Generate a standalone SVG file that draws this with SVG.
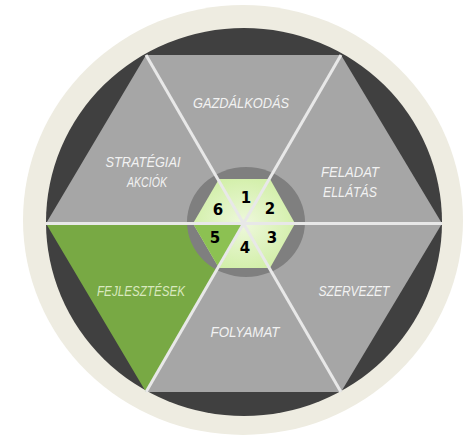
<svg xmlns="http://www.w3.org/2000/svg" width="467" height="437" viewBox="0 0 467 437">
<defs>
<style>
.seg{fill:#a6a6a6}
.lbl{font-family:"Liberation Sans",Arial,sans-serif;font-style:italic;font-size:14.5px;fill:#f2f2f2;text-anchor:middle}
.num{font-family:"DejaVu Sans",sans-serif;font-weight:bold;font-size:15px;fill:#000;text-anchor:middle}
.div{stroke:#e8e8e8;stroke-width:3;fill:none}
</style>
<radialGradient id="hexg" cx="0.5" cy="0.5" r="0.6">
<stop offset="0" stop-color="#eef8dc"/>
<stop offset="1" stop-color="#cfeea3"/>
</radialGradient>
</defs>
<rect width="467" height="437" fill="#ffffff"/>
<g id="frame">
<ellipse cx="243" cy="220" rx="220" ry="215" fill="#eeece1"/>
<ellipse cx="244" cy="222" rx="198" ry="194" fill="#404040"/>
</g>
<g id="gazdalkodas">
<polygon class="seg" points="146,55 341,55 244,223.5"/>
<text class="lbl" x="241" y="108" textLength="96" lengthAdjust="spacingAndGlyphs">GAZDÁLKODÁS</text>
</g>
<g id="feladat-ellatas">
<polygon class="seg" points="341,55 442,223.5 244,223.5"/>
<text class="lbl" x="350" y="177" textLength="58" lengthAdjust="spacingAndGlyphs">FELADAT</text>
<text class="lbl" x="350" y="197" textLength="54" lengthAdjust="spacingAndGlyphs">ELLÁTÁS</text>
</g>
<g id="szervezet">
<polygon class="seg" points="442,223.5 341,392 244,223.5"/>
<text class="lbl" x="354" y="296" textLength="71" lengthAdjust="spacingAndGlyphs">SZERVEZET</text>
</g>
<g id="folyamat">
<polygon class="seg" points="341,392 146,392 244,223.5"/>
<text class="lbl" x="245" y="337" textLength="69" lengthAdjust="spacingAndGlyphs">FOLYAMAT</text>
</g>
<g id="fejlesztesek">
<polygon points="146,392 46,223.5 244,223.5" fill="#78a944"/>
<text class="lbl" x="141" y="296" textLength="88" lengthAdjust="spacingAndGlyphs" style="fill:#d8e8bf">FEJLESZTÉSEK</text>
</g>
<g id="strategiai-akciok">
<polygon class="seg" points="46,223.5 146,55 244,223.5"/>
<text class="lbl" x="143" y="167" textLength="75" lengthAdjust="spacingAndGlyphs">STRATÉGIAI</text>
<text class="lbl" x="147" y="187" textLength="40" lengthAdjust="spacingAndGlyphs">AKCIÓK</text>
</g>
<g id="hub">
<ellipse cx="246" cy="222" rx="59" ry="55" fill="#7f7f7f"/>
<polygon points="193,223.5 219,179 270,179 295,223.5 270,268 219,268" fill="url(#hexg)"/>
<polygon points="193,223.5 244,223.5 219,268" fill="#8cc152"/>
<text class="num" x="246" y="203">1</text>
<text class="num" x="270" y="214">2</text>
<text class="num" x="272" y="243">3</text>
<text class="num" x="245" y="253">4</text>
<text class="num" x="215" y="243">5</text>
<text class="num" x="218" y="215">6</text>
</g>
<g id="connectors">
<line class="div" x1="146" y1="55" x2="341" y2="392"/>
<line class="div" x1="341" y1="55" x2="146" y2="392"/>
<line class="div" x1="46" y1="223.5" x2="442" y2="223.5"/>
</g>
</svg>
